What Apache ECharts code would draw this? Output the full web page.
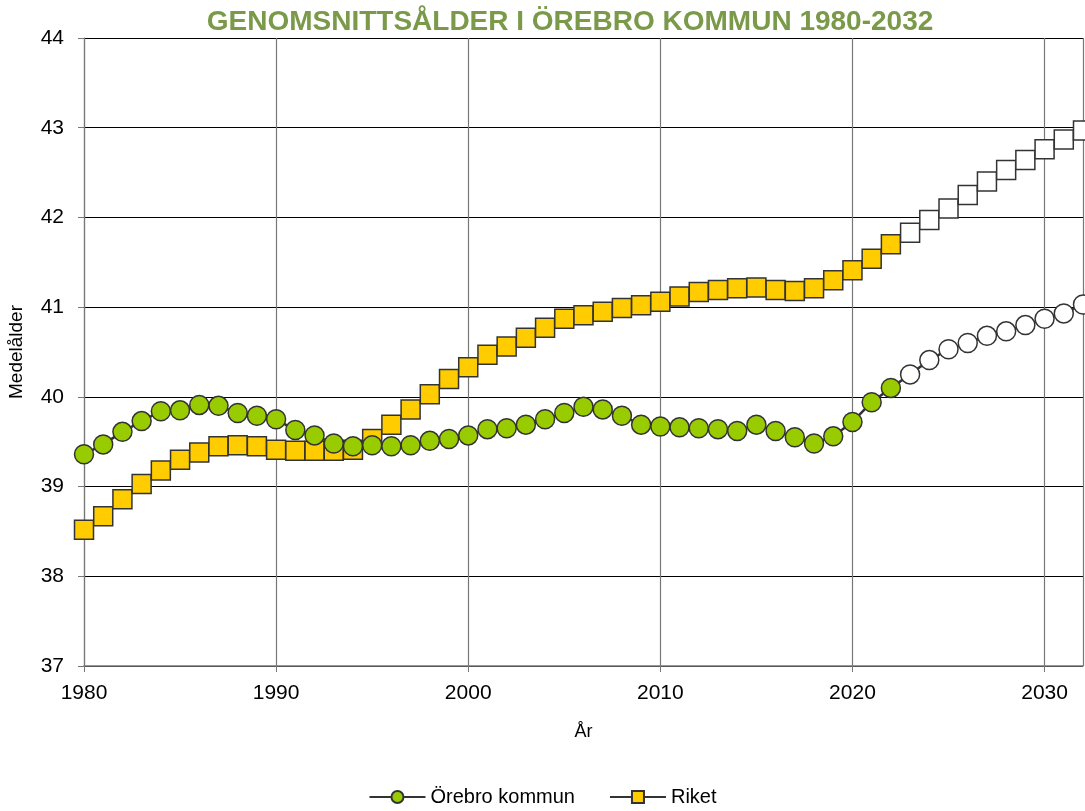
<!DOCTYPE html>
<html>
<head>
<meta charset="utf-8">
<script src="https://cdn.jsdelivr.net/npm/echarts@6/dist/echarts.min.js"></script>
<style>
  html, body { margin: 0; padding: 0; background: #fff; }
  #chart { width: 1085px; height: 811px; }
</style>
</head>
<body>
<div id="chart"></div>
<script>
var years = [];
for (var y = 1980; y <= 2032; y++) years.push(y);

// Prognos from 2023 (vita markörer)
var firstForecastYear = 2023;

var orebro = [39.36, 39.47, 39.61, 39.73, 39.84, 39.85, 39.91, 39.90, 39.82, 39.79,
    39.75, 39.63, 39.57, 39.48, 39.45, 39.46, 39.45, 39.46, 39.51, 39.53,
    39.57, 39.64, 39.65, 39.69, 39.75, 39.82, 39.89, 39.86, 39.79, 39.69,
    39.67, 39.66, 39.65, 39.64, 39.62, 39.69, 39.62, 39.55, 39.48, 39.56,
    39.72, 39.94, 40.10, 40.25, 40.41, 40.53, 40.60, 40.68, 40.73, 40.80,
    40.87, 40.93, 41.03];

var riket = [38.52, 38.67, 38.86, 39.03, 39.18, 39.30, 39.38, 39.45, 39.46, 39.45,
    39.41, 39.40, 39.40, 39.40, 39.41, 39.53, 39.69, 39.86, 40.03, 40.20,
    40.33, 40.47, 40.56, 40.66, 40.77, 40.87, 40.91, 40.95, 40.99, 41.02,
    41.06, 41.12, 41.17, 41.19, 41.21, 41.22, 41.19, 41.18, 41.21, 41.30,
    41.41, 41.54, 41.70, 41.83, 41.97, 42.10, 42.25, 42.40, 42.53, 42.64,
    42.76, 42.87, 42.97];

function toPoints(values) {
    return values.map(function (v, i) {
        var item = { value: [years[i], v] };
        if (years[i] >= firstForecastYear) {
            item.itemStyle = { color: '#ffffff' };
        }
        return item;
    });
}

var chart = echarts.init(document.getElementById('chart'));
var option = {
    animation: false,
    textStyle: { fontFamily: 'Liberation Sans, Arial, sans-serif' },
    title: {
        text: 'GENOMSNITTSÅLDER I ÖREBRO KOMMUN 1980-2032',
        left: 565,
        textAlign: 'center',
        top: 3,
        textStyle: {
            fontFamily: 'Liberation Sans Narrow, Liberation Sans, sans-serif',
            fontSize: 28,
            fontWeight: 'bold',
            color: '#7a9a4a'
        }
    },
    legend: {
        bottom: -1,
        left: 'center',
        itemWidth: 56,
        itemHeight: 15,
        itemGap: 34,
        textStyle: { fontSize: 20, color: '#000' },
        data: ['Örebro kommun', 'Riket']
    },
    grid: { left: 84, right: 2, top: 38, bottom: 145, outerBoundsMode: 'none', containLabel: false },
    xAxis: {
        type: 'value',
        min: 1980,
        max: 2032,
        interval: 10,
        name: 'År',
        nameLocation: 'middle',
        nameGap: 57,
        nameTextStyle: { fontSize: 18, color: '#000' },
        axisLine: { lineStyle: { color: '#777', width: 1.5 } },
        axisTick: { show: true, length: 6, lineStyle: { color: '#777' } },
        axisLabel: {
            fontSize: 21, color: '#000', margin: 17,
            formatter: function (v) { return String(v); }
        },
        splitLine: { show: true, lineStyle: { color: '#777', width: 1.2 } }
    },
    yAxis: {
        type: 'value',
        min: 37,
        max: 44,
        interval: 1,
        name: 'Medelålder',
        nameLocation: 'middle',
        nameGap: 58,
        nameTextStyle: { fontSize: 19, color: '#000' },
        axisLine: { show: true, lineStyle: { color: '#777', width: 1.2 } },
        axisTick: { show: true, length: 6, lineStyle: { color: '#777' } },
        axisLabel: { fontSize: 21, color: '#000', margin: 20 },
        splitLine: { show: true, lineStyle: { color: '#000', width: 1.2 } }
    },
    series: [
        {
            name: 'Örebro kommun',
            type: 'line',
            data: toPoints(orebro),
            symbol: 'circle',
            symbolSize: 19,
            lineStyle: { color: '#333', width: 2.5 },
            itemStyle: { color: '#99cc00', borderColor: '#333', borderWidth: 1.5 },
            z: 3
        },
        {
            name: 'Riket',
            type: 'line',
            data: toPoints(riket),
            symbol: 'rect',
            symbolSize: 19,
            lineStyle: { color: '#333', width: 2.5 },
            itemStyle: { color: '#ffcc00', borderColor: '#333', borderWidth: 1.5 },
            z: 2
        }
    ]
};
chart.setOption(option);
</script>
</body>
</html>
